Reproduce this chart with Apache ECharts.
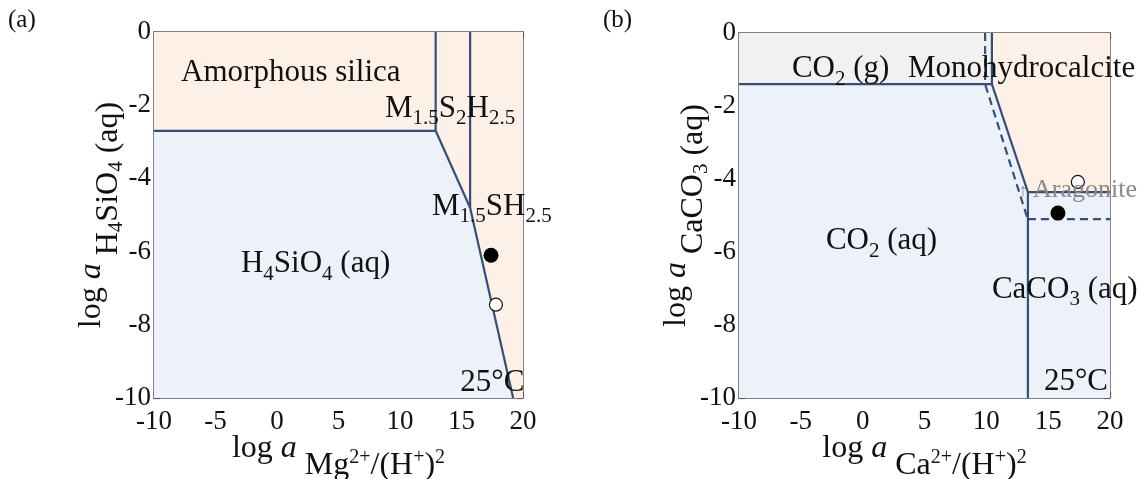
<!DOCTYPE html>
<html>
<head>
<meta charset="utf-8">
<script src="https://cdn.jsdelivr.net/npm/echarts@6/dist/echarts.min.js"></script>
<style>html,body{margin:0;padding:0;background:#fff}#c{width:1142px;height:479px}</style>
</head>
<body>
<div id="c"></div>
<script>
// ---------- axis ranges ----------
const X_RANGE = [-10, 20, 5];   // min, max, step
const Y_RANGE = [-10, 0, 2];

// ---------- panel (a) : Mg system ----------
const aSolidRegion = [[-10,0],[20,0],[20,-10],[19.2,-10],[15.7,-4.8],[12.9,-2.7],[-10,-2.7]];
const aAqRegion    = [[-10,-2.7],[12.9,-2.7],[15.7,-4.8],[19.2,-10],[-10,-10]];
const aBoundary    = [[-10,-2.7],[12.9,-2.7],[15.7,-4.8],[19.2,-10]];
const aVert1       = [[12.9,0],[12.9,-2.7]];
const aVert2       = [[15.7,0],[15.7,-4.8]];
const aFilled      = [[17.4,-6.1]];
const aOpen        = [[17.8,-7.45]];
const aLabels = [
  [-7.8, -1.13, '{n|Amorphous silica}'],
  [8.78, -2.1,  '{n|M}{s|1.5}{n|S}{s|2}{n|H}{s|2.5}'],
  [12.6, -4.78, '{n|M}{s|1.5}{n|SH}{s|2.5}'],
  [-2.93,-6.34, '{n|H}{s|4}{n|SiO}{s|4}{n| (aq)}'],
  [14.9, -9.59, '{n|25°C}']
];

// ---------- panel (b) : Ca system ----------
const bGasRegion   = [[-10,0],[10.45,0],[10.45,-1.4],[-10,-1.4]];
const bMonoRegion  = [[10.45,0],[20,0],[20,-4.36],[13.36,-4.36],[10.45,-1.4]];
const bAqRegion    = [[-10,-1.4],[10.45,-1.4],[13.36,-4.36],[20,-4.36],[20,-10],[-10,-10]];
const bSolid1      = [[-10,-1.4],[10.45,-1.4]];
const bSolid2      = [[10.45,0],[10.45,-1.4],[13.36,-4.36],[20,-4.36]];
const bSolid3      = [[13.36,-4.36],[13.36,-10]];
const bDash1       = [[9.9,0],[9.9,-1.4],[13.3,-5.05]];
const bDash2       = [[13.36,-5.1],[20,-5.1]];
const bFilled      = [[15.79,-4.93]];
const bOpen        = [[17.4,-4.08]];
const bLabels = [
  [-5.72,-0.99, '{n|CO}{s|2}{n| (g)}'],
  [3.66, -0.99, '{n|Monohydrocalcite}'],
  [-2.97,-5.7,  '{n|CO}{s|2}{n| (aq)}'],
  [10.45,-7.04, '{n|CaCO}{s|3}{n| (aq)}'],
  [14.66,-9.56, '{n|25°C}'],
  [13.77,-4.3,  '{g|Aragonite}'],
  [12.6,-4.35,  '{ar|↑}']
];

// ---------- styles ----------
const SERIF = '"Liberation Serif", "Times New Roman", serif';
const AX = '#5a5a5a';
const LINE = '#34507a';
const PEACH = '#fdf0e6';
const BLUE = '#edf1f9';
const GRAY = '#f1f1f1';

const LABEL_RICH = {
  n:  {font: '31px ' + SERIF, verticalAlign: 'top', lineHeight: 44, fill: '#111'},
  s:  {font: '21px ' + SERIF, verticalAlign: 'top', padding: [15,0,0,0], lineHeight: 44, fill: '#111'},
  g:  {font: '26px ' + SERIF, verticalAlign: 'top', padding: [3,0,0,0], lineHeight: 44, fill: '#8a8a8a'},
  ar: {font: '18px ' + SERIF, verticalAlign: 'top', padding: [6,0,0,0], lineHeight: 44, fill: '#8a8a8a'}
};

const NAME_RICH = {
  t:  {fontSize: 32, fontFamily: SERIF, color: '#111', verticalAlign: 'top'},
  ti: {fontSize: 32, fontFamily: SERIF, color: '#111', verticalAlign: 'top', fontStyle: 'italic'},
  f:  {fontSize: 32, fontFamily: SERIF, color: '#111', verticalAlign: 'top', padding: [17,0,0,0]},
  p:  {fontSize: 20, fontFamily: SERIF, color: '#111', verticalAlign: 'top', padding: [15,0,0,0]},
  s:  {fontSize: 21, fontFamily: SERIF, color: '#111', verticalAlign: 'top', padding: [30,0,0,0]}
};

function xAxisCfg(grid, pos, name) {
  return {
    type: 'value', gridIndex: grid, position: pos,
    min: X_RANGE[0], max: X_RANGE[1], interval: X_RANGE[2],
    axisLine: {show: true, onZero: false, lineStyle: {color: AX, width: 1.5}},
    axisTick: {show: true, inside: true, length: 6, lineStyle: {color: AX, width: 1.2}},
    axisLabel: {show: pos === 'bottom', margin: 10, color: '#111', fontSize: 27, fontFamily: SERIF},
    splitLine: {show: false},
    name: name || '', nameLocation: 'middle', nameGap: 35, nameMoveOverlap: false,
    nameTextStyle: {rich: NAME_RICH}
  };
}
function yAxisCfg(grid, pos, name, gap) {
  return {
    type: 'value', gridIndex: grid, position: pos,
    min: Y_RANGE[0], max: Y_RANGE[1], interval: Y_RANGE[2],
    axisLine: {show: true, onZero: false, lineStyle: {color: AX, width: 1.5}},
    axisTick: {show: true, inside: true, length: 6, lineStyle: {color: AX, width: 1.2}},
    minorTick: {show: true, splitNumber: 2, length: 6, lineStyle: {color: AX, width: 1.2}},
    axisLabel: {show: pos === 'left', margin: 3, color: '#111', fontSize: 27, fontFamily: SERIF},
    splitLine: {show: false}, minorSplitLine: {show: false},
    name: name || '', nameLocation: 'middle', nameGap: gap || 0, nameMoveOverlap: false,
    nameTextStyle: {rich: NAME_RICH}
  };
}

function polySeries(pts, color, ai) {
  return {
    type: 'custom', xAxisIndex: ai * 2, yAxisIndex: ai * 2, silent: true, z: 1, clip: false,
    data: [[pts[0][0], pts[0][1]]],
    renderItem: function (params, api) {
      return {type: 'polygon', shape: {points: pts.map(function (p) { return api.coord(p); })},
              style: {fill: color}};
    }
  };
}
function lineSeries(pts, ai, dashed) {
  return {
    type: 'line', xAxisIndex: ai * 2, yAxisIndex: ai * 2, silent: true, z: 3,
    data: pts, showSymbol: false, symbol: 'none',
    lineStyle: {color: LINE, width: 2.2, type: dashed ? [8, 5] : 'solid'}
  };
}
function dotSeries(pts, ai, open) {
  return {
    type: 'scatter', xAxisIndex: ai * 2, yAxisIndex: ai * 2, silent: true, z: 5,
    data: pts, symbol: 'circle', symbolSize: open ? 13 : 15,
    itemStyle: open ? {color: '#fff', borderColor: '#111', borderWidth: 1.2, opacity: 1}
                    : {color: '#000', opacity: 1}
  };
}
function textSeries(labels, ai) {
  return {
    type: 'custom', xAxisIndex: ai * 2, yAxisIndex: ai * 2, silent: true, z: 10, clip: false,
    data: labels.map(function (l) { return [l[0], l[1]]; }),
    renderItem: function (params, api) {
      const l = labels[params.dataIndex];
      const p = api.coord([l[0], l[1]]);
      return {type: 'text', x: p[0], y: p[1] - 15.5,
              style: {text: l[2], rich: LABEL_RICH, align: 'left', verticalAlign: 'top', fill: '#111'}};
    }
  };
}

const chart = echarts.init(document.getElementById('c'), null, {renderer: 'canvas'});
chart.setOption({
  animation: false,
  backgroundColor: '#fff',
  grid: [
    {left: 154, top: 32, width: 369, height: 366, outerBoundsMode: 'none', containLabel: false},
    {left: 739, top: 33, width: 371, height: 365, outerBoundsMode: 'none', containLabel: false}
  ],
  xAxis: [
    xAxisCfg(0, 'bottom', '{t|log }{ti|a}{f| Mg}{p|2+}{f|/(H}{p|+}{f|)}{p|2}'),
    xAxisCfg(0, 'top'),
    xAxisCfg(1, 'bottom', '{t|log }{ti|a}{f| Ca}{p|2+}{f|/(H}{p|+}{f|)}{p|2}'),
    xAxisCfg(1, 'top')
  ],
  yAxis: [
    yAxisCfg(0, 'left', '{t|log }{ti|a}{f| H}{s|4}{f|SiO}{s|4}{f| (aq)}', 27),
    yAxisCfg(0, 'right'),
    yAxisCfg(1, 'left', '{t|log }{ti|a}{f| CaCO}{s|3}{f| (aq)}', 27),
    yAxisCfg(1, 'right')
  ],
  graphic: [
    {type: 'text', left: 8, top: 8, style: {text: '(a)', font: '25px ' + SERIF, fill: '#111'}},
    {type: 'text', left: 603, top: 8, style: {text: '(b)', font: '25px ' + SERIF, fill: '#111'}}
  ],
  series: [
    polySeries(aSolidRegion, PEACH, 0),
    polySeries(aAqRegion, BLUE, 0),
    lineSeries(aBoundary, 0),
    lineSeries(aVert1, 0),
    lineSeries(aVert2, 0),
    dotSeries(aFilled, 0, false),
    dotSeries(aOpen, 0, true),
    textSeries(aLabels, 0),

    polySeries(bGasRegion, GRAY, 1),
    polySeries(bMonoRegion, PEACH, 1),
    polySeries(bAqRegion, BLUE, 1),
    lineSeries(bSolid1, 1),
    lineSeries(bSolid2, 1),
    lineSeries(bSolid3, 1),
    lineSeries(bDash1, 1, true),
    lineSeries(bDash2, 1, true),
    dotSeries(bFilled, 1, false),
    dotSeries(bOpen, 1, true),
    textSeries(bLabels, 1)
  ]
});
</script>
</body>
</html>
